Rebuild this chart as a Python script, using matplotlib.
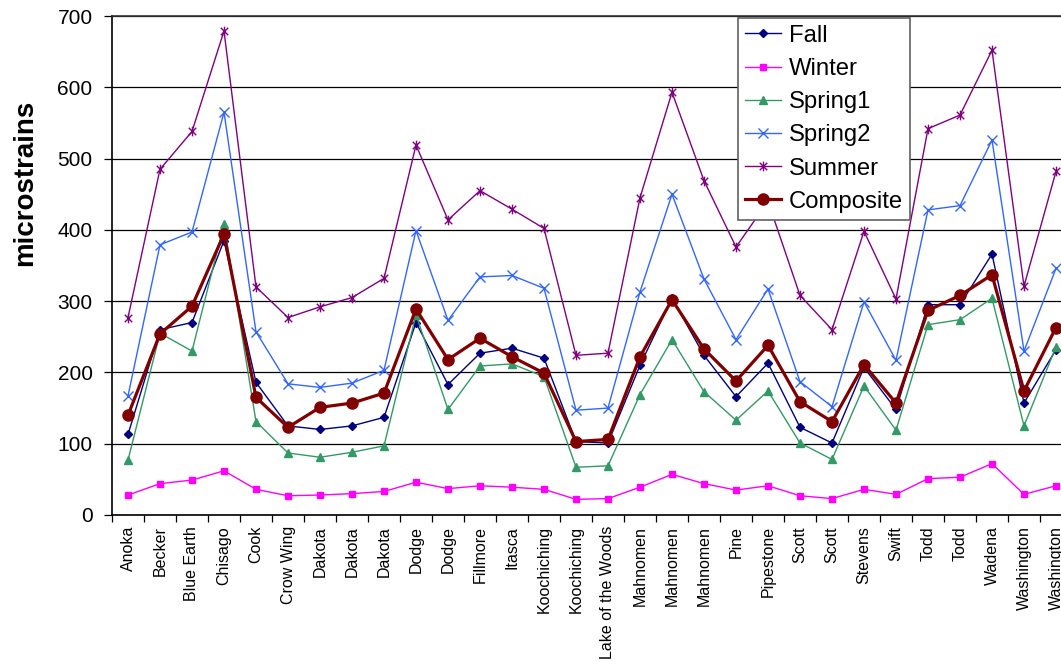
import matplotlib
matplotlib.use("Agg")
import matplotlib.pyplot as plt
from matplotlib.path import Path

plt.rcParams['font.family'] = ['Liberation Sans', 'DejaVu Sans']

categories = ["Anoka", "Becker", "Blue Earth", "Chisago", "Cook", "Crow Wing",
              "Dakota", "Dakota", "Dakota", "Dodge", "Dodge", "Fillmore", "Itasca",
              "Koochiching", "Koochiching", "Lake of the Woods", "Mahnomen",
              "Mahnomen", "Mahnomen", "Pine", "Pipestone", "Scott", "Scott",
              "Stevens", "Swift", "Todd", "Todd", "Wadena", "Washington", "Washington"]

fall = [113, 260, 270, 385, 186, 125, 120, 125, 137, 270, 183, 227, 234, 220, 103,
        101, 210, 304, 224, 166, 213, 123, 101, 207, 148, 295, 295, 366, 157, 232]
winter = [28, 44, 49, 62, 36, 27, 28, 30, 33, 46, 37, 41, 39, 36, 22,
          23, 39, 57, 44, 35, 41, 27, 23, 36, 29, 51, 53, 72, 29, 41]
spring1 = [77, 255, 230, 408, 131, 87, 81, 88, 97, 281, 148, 209, 212, 194, 67,
           69, 169, 246, 173, 133, 174, 101, 78, 181, 119, 267, 274, 304, 125, 236]
spring2 = [167, 379, 397, 565, 257, 184, 179, 185, 203, 399, 273, 334, 336, 318, 147,
           150, 313, 450, 331, 246, 317, 187, 152, 299, 217, 428, 434, 526, 230, 346]
summer = [277, 485, 538, 679, 320, 277, 292, 305, 332, 519, 414, 455, 429, 402, 224,
          227, 445, 593, 469, 376, 440, 308, 260, 398, 303, 542, 561, 652, 321, 482]
composite = [140, 254, 293, 394, 165, 123, 151, 157, 171, 289, 218, 248, 222, 199, 103,
             106, 222, 302, 233, 188, 238, 159, 131, 211, 157, 287, 308, 337, 174, 263]

y_ticks = [0, 100, 200, 300, 400, 500, 600, 700]

W, H = 1061, 662
fig = plt.figure(figsize=(W / 100, H / 100), dpi=100)
L, R, T, B = 112, 1072, 16, 515
ax = fig.add_axes([L / W, 1 - B / H, (R - L) / W, (B - T) / H])

x = list(range(len(categories)))

star = Path([(-1, -1), (1, 1), (-1, 1), (1, -1), (0, -1.3), (0, 1.3)],
            [Path.MOVETO, Path.LINETO, Path.MOVETO, Path.LINETO, Path.MOVETO, Path.LINETO])

ax.plot(x, fall, color='#000080', lw=1.0, marker='D', ms=4.5, label='Fall', zorder=3)
ax.plot(x, winter, color='#FF00FF', lw=1.0, marker='s', ms=5, label='Winter', zorder=3)
ax.plot(x, spring1, color='#339966', lw=1.0, marker='^', ms=6, label='Spring1', zorder=3)
ax.plot(x, spring2, color='#3366FF', lw=1.0, marker='x', ms=6.5, mew=1.0, label='Spring2', zorder=3)
ax.plot(x, summer, color='#800080', lw=1.0, marker=star, ms=7, mew=1.0, label='Summer', zorder=3)
ax.plot(x, composite, color='#800000', lw=2.3, marker='o', ms=8, label='Composite', zorder=4)

ax.set_xlim(-0.5, len(categories) - 0.5)
ax.set_ylim(0, 700)
ax.set_yticks(y_ticks)
ax.set_yticklabels([str(v) for v in y_ticks], fontsize=15)
ax.yaxis.grid(True, color='black', lw=0.9)
ax.set_axisbelow(True)
ax.tick_params(axis='y', direction='out', length=6, width=0.9, pad=8)

ax.set_xticks(x)
ax.set_xticklabels(categories, rotation=90, fontsize=11.5)
ax.set_xticks([i - 0.5 for i in range(len(categories) + 1)], minor=True)
ax.tick_params(axis='x', which='major', length=0, pad=8)
ax.tick_params(axis='x', which='minor', direction='out', length=5, width=0.9)

ax.spines['right'].set_visible(False)
ax.spines['top'].set_color('#333333')
ax.spines['top'].set_linewidth(1.2)
ax.spines['left'].set_linewidth(1.2)
ax.spines['bottom'].set_linewidth(1.2)

fig.text(25 / W, 1 - 183 / H, 'microstrains', rotation=90, ha='center', va='center',
         fontsize=20, fontweight='bold')

leg = ax.legend(loc='upper left', bbox_to_anchor=(738 / W, 1 - 18 / H),
                bbox_transform=fig.transFigure, borderaxespad=0, fontsize=17.2,
                frameon=True, fancybox=False, framealpha=1, edgecolor='#606060',
                handlelength=1.5, handletextpad=0.35, labelspacing=0.47,
                borderpad=0.28)
leg.get_frame().set_linewidth(1.2)
leg.set_zorder(10)

fig.savefig('out.png', dpi=100)
